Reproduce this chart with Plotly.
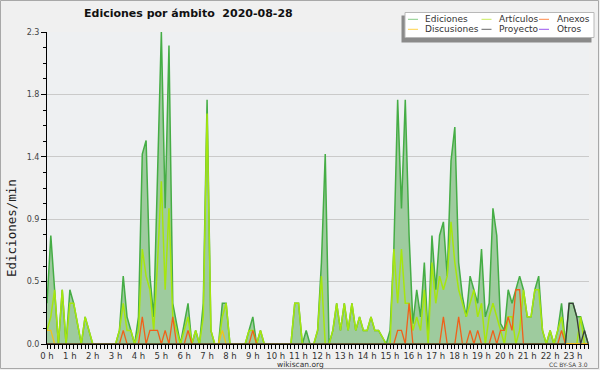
import plotly.graph_objects as go

# ---------------- data (10-minute bins, 00:00 .. 23:40) ----------------
hour_labels = ["0 h", "1 h", "2 h", "3 h", "4 h", "5 h", "6 h", "7 h", "8 h", "9 h",
               "10 h", "11 h", "12 h", "13 h", "14 h", "15 h", "16 h", "17 h", "18 h",
               "19 h", "20 h", "21 h", "22 h", "23 h"]
y_tick_values = [0.0, 0.46, 0.92, 1.38, 1.84, 2.3]
y_tick_labels = ["0.0", "0.5", "0.9", "1.4", "1.8", "2.3"]

bin_minutes = list(range(0, 1430, 10))

ediciones = [
    0.3, 0.8, 0.4, 0.0, 0.4, 0.0, 0.4, 0.3, 0.15, 0.0, 0.2, 0.1,
    0.0, 0.0, 0.0, 0.0, 0.0, 0.0, 0.0, 0.1, 0.5, 0.2, 0.1, 0.0,
    0.2, 1.4, 1.5, 0.5, 0.2, 1.2, 2.3, 1.0, 2.2, 0.3, 0.15, 0.0,
    0.15, 0.3, 0.0, 0.1, 0.0, 0.3, 1.8, 0.1, 0.0, 0.0, 0.3, 0.3,
    0.0, 0.0, 0.0, 0.0, 0.0, 0.1, 0.2, 0.0, 0.1, 0.0, 0.0, 0.0,
    0.0, 0.0, 0.0, 0.0, 0.0, 0.3, 0.3, 0.0, 0.1, 0.0, 0.0, 0.1,
    0.6, 1.4, 0.0, 0.1, 0.3, 0.1, 0.3, 0.1, 0.3, 0.1, 0.2, 0.1,
    0.1, 0.2, 0.1, 0.1, 0.05, 0.0, 0.1, 0.7, 1.8, 1.0, 1.8, 0.8,
    0.15, 0.4, 0.2, 0.6, 0.05, 0.8, 0.4, 0.8, 0.9, 0.5, 1.35, 1.6,
    0.6, 0.35, 0.2, 0.5, 0.4, 0.3, 0.7, 0.2, 0.3, 1.0, 0.8, 0.15,
    0.1, 0.4, 0.3, 0.4, 0.5, 0.4, 0.2, 0.2, 0.4, 0.5, 0.1, 0.0,
    0.1, 0.0, 0.1, 0.3, 0.0, 0.3, 0.3, 0.2, 0.2, 0.1, 0.0,
]
articulos = [
    0.1, 0.2, 0.4, 0.0, 0.4, 0.0, 0.3, 0.3, 0.15, 0.0, 0.2, 0.1,
    0.0, 0.0, 0.0, 0.0, 0.0, 0.0, 0.0, 0.1, 0.3, 0.1, 0.1, 0.0,
    0.1, 0.7, 0.5, 0.4, 0.1, 0.6, 1.2, 0.4, 1.0, 0.2, 0.1, 0.0,
    0.1, 0.2, 0.0, 0.1, 0.0, 0.2, 1.7, 0.1, 0.0, 0.0, 0.2, 0.3,
    0.0, 0.0, 0.0, 0.0, 0.0, 0.1, 0.1, 0.0, 0.1, 0.0, 0.0, 0.0,
    0.0, 0.0, 0.0, 0.0, 0.0, 0.3, 0.3, 0.0, 0.0, 0.0, 0.0, 0.1,
    0.5, 0.0, 0.0, 0.1, 0.3, 0.1, 0.3, 0.1, 0.3, 0.1, 0.2, 0.1,
    0.1, 0.2, 0.1, 0.1, 0.05, 0.0, 0.0, 0.7, 0.3, 0.7, 0.3, 0.3,
    0.1, 0.2, 0.1, 0.4, 0.0, 0.6, 0.3, 0.5, 0.4, 0.5, 0.9, 0.6,
    0.4, 0.3, 0.2, 0.3, 0.4, 0.2, 0.3, 0.0, 0.2, 0.3, 0.2, 0.1,
    0.0, 0.2, 0.2, 0.0, 0.1, 0.4, 0.2, 0.2, 0.4, 0.4, 0.1, 0.0,
    0.1, 0.0, 0.1, 0.2, 0.0, 0.0, 0.0, 0.0, 0.2, 0.0, 0.0,
]
anexos = [
    0.0, 0.0, 0.0, 0.0, 0.0, 0.0, 0.0, 0.0, 0.0, 0.0, 0.0, 0.0,
    0.0, 0.0, 0.0, 0.0, 0.0, 0.0, 0.0, 0.0, 0.1, 0.0, 0.0, 0.0,
    0.0, 0.2, 0.0, 0.1, 0.1, 0.1, 0.0, 0.1, 0.0, 0.2, 0.0, 0.0,
    0.0, 0.1, 0.0, 0.0, 0.0, 0.0, 0.0, 0.0, 0.0, 0.0, 0.0, 0.0,
    0.0, 0.0, 0.0, 0.0, 0.0, 0.0, 0.1, 0.0, 0.0, 0.0, 0.0, 0.0,
    0.0, 0.0, 0.0, 0.0, 0.0, 0.0, 0.0, 0.0, 0.0, 0.0, 0.0, 0.0,
    0.0, 0.0, 0.0, 0.0, 0.0, 0.0, 0.0, 0.0, 0.0, 0.0, 0.0, 0.0,
    0.0, 0.0, 0.0, 0.0, 0.0, 0.0, 0.0, 0.0, 0.1, 0.1, 0.0, 0.3,
    0.0, 0.0, 0.0, 0.0, 0.0, 0.0, 0.0, 0.0, 0.2, 0.0, 0.0, 0.0,
    0.2, 0.0, 0.0, 0.1, 0.0, 0.1, 0.0, 0.0, 0.0, 0.1, 0.0, 0.1,
    0.1, 0.2, 0.1, 0.4, 0.4, 0.0, 0.0, 0.0, 0.0, 0.0, 0.0, 0.0,
    0.0, 0.0, 0.0, 0.1, 0.0, 0.0, 0.0, 0.0, 0.0, 0.0, 0.0,
]
discusiones = [
    0.1, 0.1, 0.0, 0.0, 0.0, 0.0, 0.0, 0.0, 0.0, 0.0, 0.0, 0.0,
    0.0, 0.0, 0.0, 0.0, 0.0, 0.0, 0.0, 0.0, 0.0, 0.0, 0.0, 0.0,
    0.0, 0.0, 0.0, 0.0, 0.0, 0.0, 0.0, 0.0, 0.0, 0.0, 0.0, 0.0,
    0.0, 0.0, 0.0, 0.0, 0.0, 0.0, 0.0, 0.0, 0.0, 0.0, 0.1, 0.0,
    0.0, 0.0, 0.0, 0.0, 0.0, 0.0, 0.0, 0.0, 0.0, 0.0, 0.0, 0.0,
    0.0, 0.0, 0.0, 0.0, 0.0, 0.0, 0.0, 0.0, 0.0, 0.0, 0.0, 0.0,
    0.0, 0.0, 0.0, 0.0, 0.0, 0.0, 0.0, 0.0, 0.0, 0.0, 0.0, 0.0,
    0.0, 0.0, 0.0, 0.0, 0.0, 0.0, 0.0, 0.0, 0.0, 0.0, 0.0, 0.0,
    0.0, 0.0, 0.0, 0.0, 0.0, 0.0, 0.0, 0.0, 0.0, 0.0, 0.0, 0.0,
    0.0, 0.0, 0.0, 0.0, 0.0, 0.0, 0.0, 0.0, 0.0, 0.0, 0.0, 0.0,
    0.0, 0.0, 0.0, 0.0, 0.0, 0.0, 0.0, 0.0, 0.0, 0.0, 0.0, 0.0,
    0.0, 0.0, 0.0, 0.0, 0.0, 0.0, 0.0, 0.0, 0.0, 0.0, 0.0,
]
proyecto = [
    0.0, 0.0, 0.0, 0.0, 0.0, 0.0, 0.0, 0.0, 0.0, 0.0, 0.0, 0.0,
    0.0, 0.0, 0.0, 0.0, 0.0, 0.0, 0.0, 0.0, 0.0, 0.0, 0.0, 0.0,
    0.0, 0.0, 0.0, 0.0, 0.0, 0.0, 0.0, 0.0, 0.0, 0.0, 0.0, 0.0,
    0.0, 0.0, 0.0, 0.0, 0.0, 0.0, 0.0, 0.0, 0.0, 0.0, 0.0, 0.0,
    0.0, 0.0, 0.0, 0.0, 0.0, 0.0, 0.0, 0.0, 0.0, 0.0, 0.0, 0.0,
    0.0, 0.0, 0.0, 0.0, 0.0, 0.0, 0.0, 0.0, 0.0, 0.0, 0.0, 0.0,
    0.0, 0.0, 0.0, 0.0, 0.0, 0.0, 0.0, 0.0, 0.0, 0.0, 0.0, 0.0,
    0.0, 0.0, 0.0, 0.0, 0.0, 0.0, 0.0, 0.0, 0.0, 0.0, 0.0, 0.0,
    0.0, 0.0, 0.0, 0.0, 0.0, 0.0, 0.0, 0.0, 0.0, 0.0, 0.0, 0.0,
    0.0, 0.0, 0.0, 0.0, 0.0, 0.0, 0.0, 0.0, 0.0, 0.0, 0.0, 0.0,
    0.0, 0.0, 0.0, 0.0, 0.0, 0.0, 0.0, 0.0, 0.0, 0.0, 0.0, 0.0,
    0.0, 0.0, 0.0, 0.0, 0.0, 0.3, 0.3, 0.2, 0.0, 0.1, 0.0,
]

series_names = ["Ediciones", "Artículos", "Anexos", "Discusiones", "Proyecto", "Otros"]
series_colors = ["#45ad45", "#a6e60e", "#f0601a", "#f2c21a", "#3a3a3a", "#9a44ee"]
legend_colors = ["#88cc88", "#c8ec5a", "#ff8a4a", "#ffd24a", "#666666", "#9a55ee"]

# ---------------- geometry helpers ----------------
W, H = 600, 370
L, R, T, B = 47, 11, 32, 26
PW, PH = W - L - R, H - T - B


def px(x):
    return (x - L) / PW


def py(y):
    return (H - B - y) / PH


x_hours = [m / 60 for m in bin_minutes]

fig = go.Figure()
fig.add_trace(go.Scatter(x=x_hours, y=ediciones, mode="lines", name="Ediciones",
                         line=dict(color=series_colors[0], width=1.5),
                         fill="tozeroy", fillcolor="#9ecb9e"))
fig.add_trace(go.Scatter(x=x_hours, y=articulos, mode="lines", name="Artículos",
                         line=dict(color=series_colors[1], width=1.5)))
fig.add_trace(go.Scatter(x=x_hours, y=anexos, mode="lines", name="Anexos",
                         line=dict(color=series_colors[2], width=1.3)))
fig.add_trace(go.Scatter(x=x_hours, y=discusiones, mode="lines", name="Discusiones",
                         line=dict(color=series_colors[3], width=1.3)))
fig.add_trace(go.Scatter(x=x_hours, y=proyecto, mode="lines", name="Proyecto",
                         line=dict(color=series_colors[4], width=1.3)))

FONT = "DejaVu Sans"

shapes = []
annotations = []

# outer frame
shapes.append(dict(type="rect", xref="paper", yref="paper",
                   x0=px(0.5), x1=px(598.5), y0=py(368.5), y1=py(0.5),
                   line=dict(color="#a8a8a8", width=1), layer="above"))

# legend (shadow, box, entries)
shapes.append(dict(type="rect", xref="paper", yref="paper",
                   x0=px(401.5), x1=px(591.5), y0=py(42.5), y1=py(15.5),
                   line=dict(width=0), fillcolor="#8a8a8a", layer="above"))
shapes.append(dict(type="rect", xref="paper", yref="paper",
                   x0=px(405), x1=px(594), y0=py(37.5), y1=py(12.5),
                   line=dict(color="#b8b8b8", width=1), fillcolor="#ffffff", layer="above"))
col_line_x = [408, 481.5, 539]
col_text_x = [423, 496.5, 555]
row_y = [19.3, 29.3]
order = [(0, 0, 0), (1, 0, 1), (2, 0, 2), (3, 1, 0), (4, 1, 1), (5, 1, 2)]
for idx, row, col in order:
    yy = row_y[row]
    shapes.append(dict(type="line", xref="paper", yref="paper",
                       x0=px(col_line_x[col]), x1=px(col_line_x[col] + 10),
                       y0=py(yy), y1=py(yy),
                       line=dict(color=legend_colors[idx], width=1), layer="above"))
    annotations.append(dict(xref="paper", yref="paper", x=px(col_text_x[col]), y=py(yy),
                            text=series_names[idx], showarrow=False,
                            xanchor="left", yanchor="middle",
                            font=dict(family=FONT, size=9, color="#333333")))

# title
annotations.append(dict(xref="paper", yref="paper", x=px(188.5), y=py(14),
                        text="<b>Ediciones por ámbito  2020-08-28</b>", showarrow=False,
                        xanchor="center", yanchor="middle",
                        font=dict(family=FONT, size=11, color="#111111")))
# y-axis title
annotations.append(dict(xref="paper", yref="paper", x=px(11), y=py(228),
                        text="Ediciones/min", showarrow=False, textangle=-90,
                        xanchor="center", yanchor="middle",
                        font=dict(family="DejaVu Sans Mono", size=12.5, color="#222222")))
# footer texts
annotations.append(dict(xref="paper", yref="paper", x=px(300.5), y=py(364),
                        text="wikiscan.org", showarrow=False,
                        xanchor="center", yanchor="middle",
                        font=dict(family=FONT, size=7.5, color="#333333")))
annotations.append(dict(xref="paper", yref="paper", x=px(589.5), y=py(364),
                        text="CC BY-SA 3.0", showarrow=False,
                        xanchor="right", yanchor="middle",
                        font=dict(family=FONT, size=6, color="#444444")))

fig.update_layout(
    width=W, height=H,
    margin=dict(l=L, r=R, t=T, b=B, pad=0, autoexpand=False),
    paper_bgcolor="#f0f0f0",
    plot_bgcolor="#eef0f2",
    showlegend=False,
    shapes=shapes,
    annotations=annotations,
    xaxis=dict(
        range=[0, 23.7], showgrid=False, zeroline=False, automargin=False,
        showline=True, linecolor="#000000", linewidth=1,
        ticks="outside", ticklen=4, tickwidth=1, tickcolor="#000000",
        tickvals=list(range(24)), ticktext=hour_labels,
        tickfont=dict(family=FONT, size=8.5, color="#333333"),
        minor=dict(dtick=1 / 6, tick0=0, ticks="outside", ticklen=4,
                   tickwidth=1, tickcolor="#000000", showgrid=False),
        fixedrange=True,
    ),
    yaxis=dict(
        range=[0, 2.3], zeroline=False, automargin=False,
        showgrid=True, gridcolor="#cacaca", gridwidth=1,
        showline=True, linecolor="#000000", linewidth=1,
        ticks="outside", ticklen=5, tickwidth=1, tickcolor="#000000",
        tickvals=y_tick_values, ticktext=y_tick_labels,
        tickfont=dict(family=FONT, size=8, color="#444444"),
        minor=dict(dtick=0.115, tick0=0, ticks="outside", ticklen=3,
                   tickwidth=1, tickcolor="#000000", showgrid=False),
        fixedrange=True,
    ),
)

fig.write_html("out.html", config={"displayModeBar": False},
               post_script="document.body.style.margin='0px';")
